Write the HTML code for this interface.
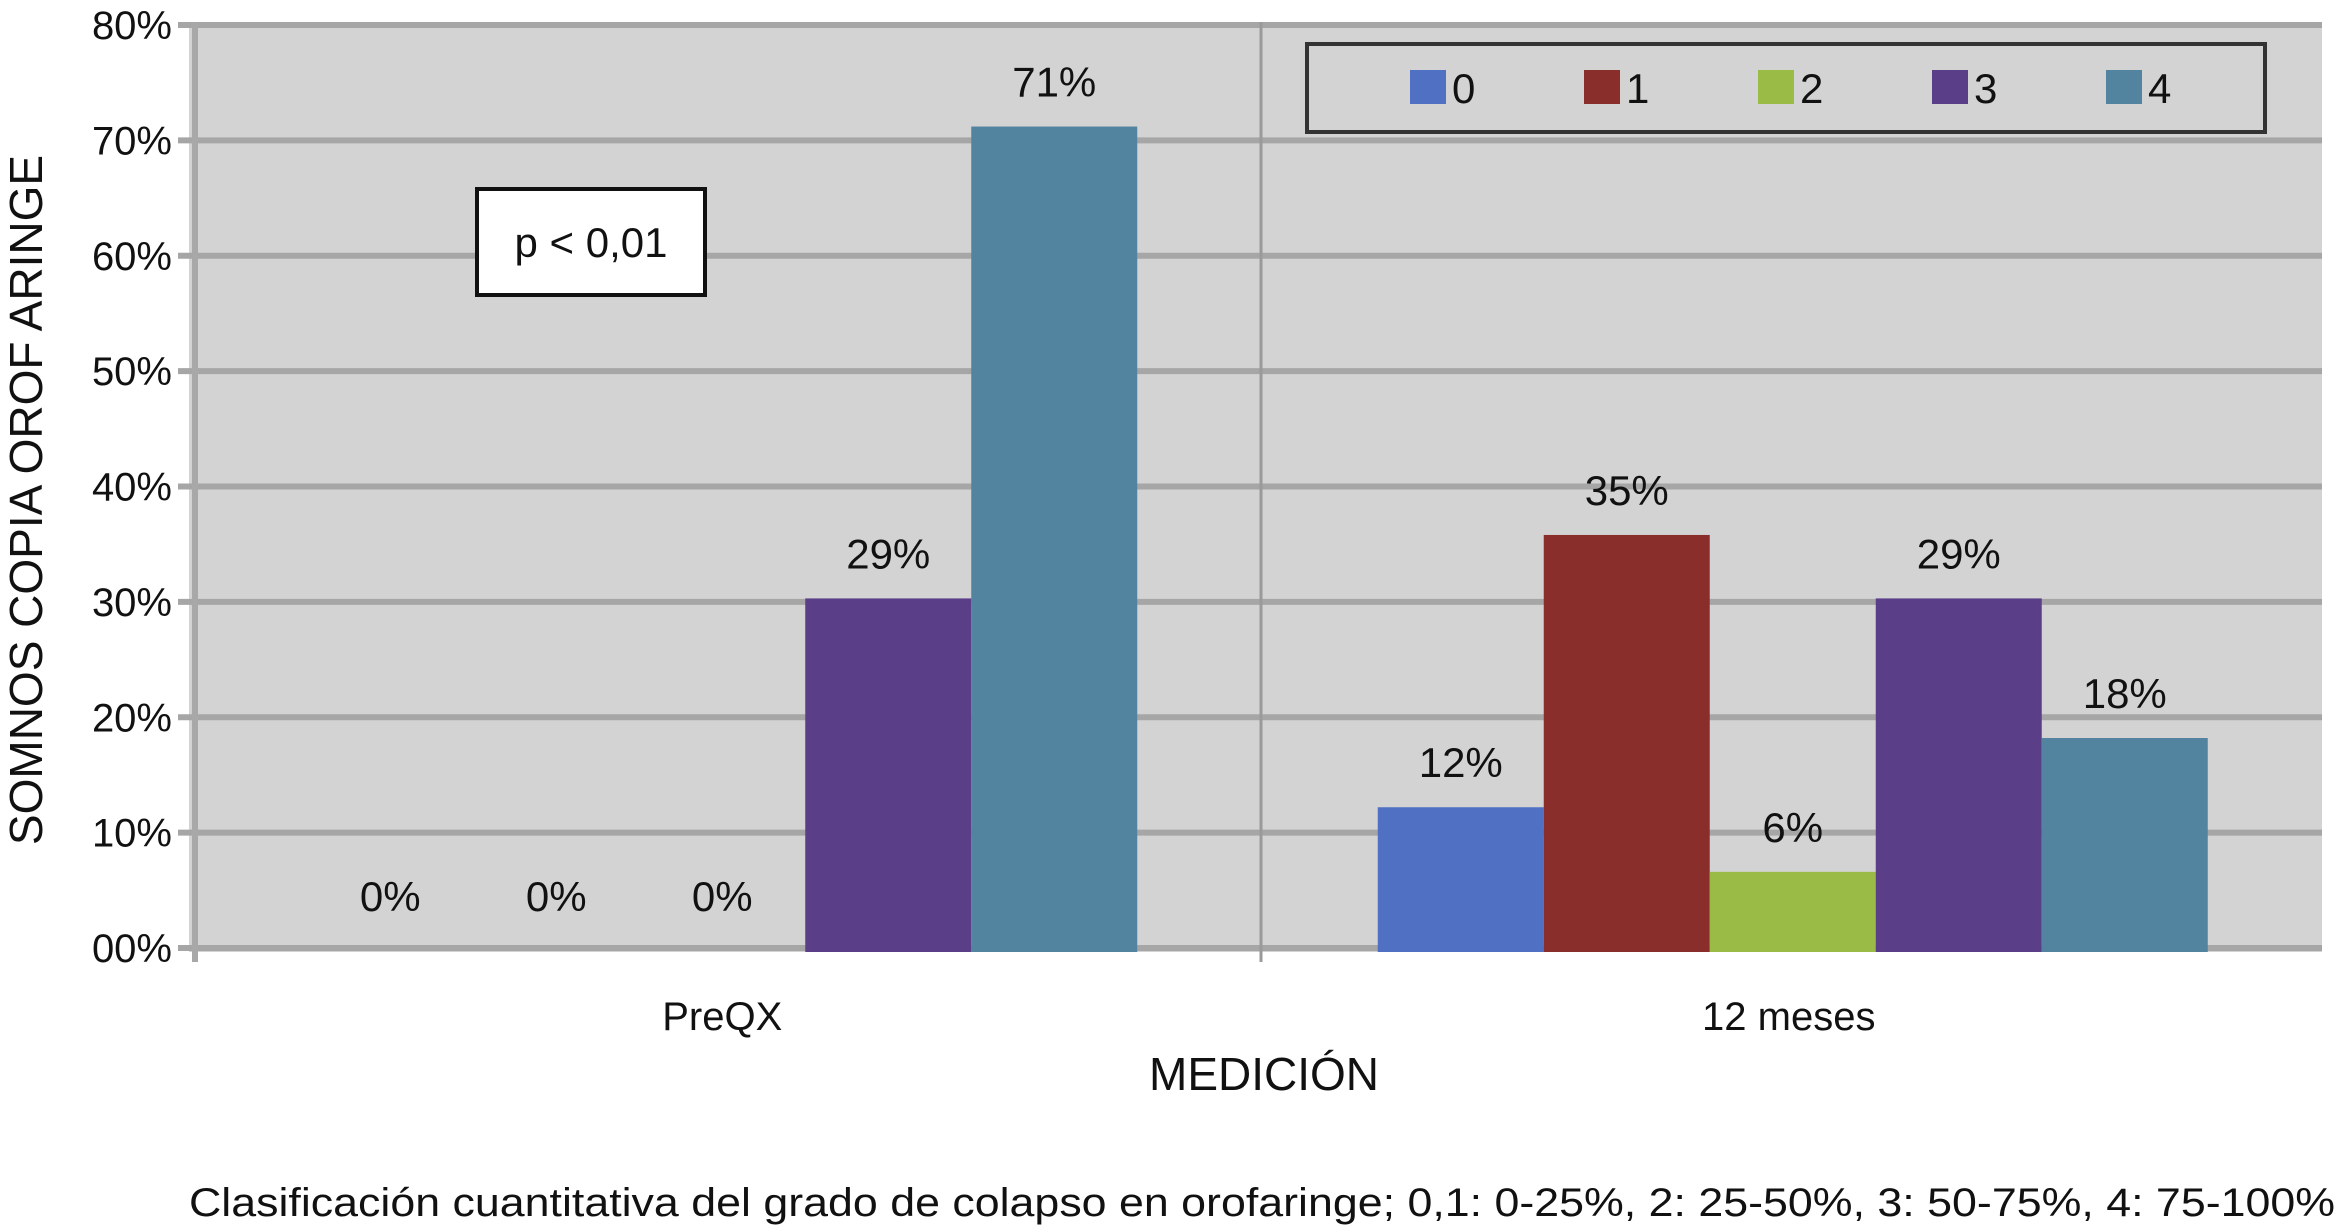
<!DOCTYPE html>
<html><head><meta charset="utf-8"><style>
html,body{margin:0;padding:0;background:#fff}
svg{display:block;font-family:"Liberation Sans",Arial,sans-serif}
</style></head><body>
<svg id="chart" width="2338" height="1227" viewBox="0 0 2338 1227" xmlns="http://www.w3.org/2000/svg">
<rect x="189" y="22" width="2133" height="930" fill="#d3d3d3"/>
<g id="grid"></g>
<line x1="1261" y1="22" x2="1261" y2="962" stroke="#9a9a9a" stroke-width="3"/>
<line x1="195" y1="22" x2="195" y2="962" stroke="#a8a8a8" stroke-width="6"/>
<g id="bars"></g>
<g id="ticks"></g>
<rect x="477" y="189" width="228" height="106" fill="#fff" stroke="#111" stroke-width="4"/>
<text x="591" y="257" font-size="42" text-anchor="middle" fill="#111">p &lt; 0,01</text>
<g>
<rect x="1307" y="44" width="958" height="88" fill="#d3d3d3" stroke="#333" stroke-width="4"/>
<g id="legend-items"></g>
</g>
<text transform="translate(42,500) rotate(-90)" font-size="46" text-anchor="middle" fill="#111">SOMNOS COPIA OROF ARINGE</text>
<text x="1264" y="1090" font-size="46" text-anchor="middle" fill="#111">MEDICIÓN</text>
<text x="189" y="1216" font-size="40" textLength="2146" lengthAdjust="spacingAndGlyphs" fill="#111">Clasificación cuantitativa del grado de colapso en orofaringe; 0,1: 0-25%, 2: 25-50%, 3: 50-75%, 4: 75-100%</text>
</svg>
<script>
const categories = ["PreQX", "12 meses"];
const seriesNames = ["0", "1", "2", "3", "4"];
const seriesColors = ["#5070c4", "#8a2e2c", "#9bbb47", "#5b3e88", "#52839f"];
const preqxValues = [0, 0, 0, 30.3, 71.2];
const mesesValues = [12.2, 35.8, 6.6, 30.3, 18.2];
const preqxLabels = ["0%", "0%", "0%", "29%", "71%"];
const mesesLabels = ["12%", "35%", "6%", "29%", "18%"];
const yTicks = [0, 10, 20, 30, 40, 50, 60, 70, 80];
const yTickLabels = ["00%", "10%", "20%", "30%", "40%", "50%", "60%", "70%", "80%"];

const NS = "http://www.w3.org/2000/svg";
const plotL = 189, plotR = 2322, y0 = 948, yTop = 25, yMax = 80;
function yScale(v){ return y0 - (v / yMax) * (y0 - yTop); }
const catW = (plotR - plotL) / categories.length;
const barW = 166;
function xBar(ci, si){ const c = plotL + catW * (ci + 0.5) + (ci === 1 ? 4 : 0); return c - barW * seriesNames.length / 2 + si * barW; }
function mk(tag, attrs, parent){ const e = document.createElementNS(NS, tag); for (const k in attrs) e.setAttribute(k, attrs[k]); parent.appendChild(e); return e; }

const grid = document.getElementById('grid');
const ticks = document.getElementById('ticks');
yTicks.forEach((t, i) => {
  const y = yScale(t);
  const g = mk('line', {x1: 178, x2: plotR, y1: y, y2: y, stroke: '#a6a6a6', 'stroke-width': 6}, grid);
  
  
  const tx = mk('text', {x: 172, y: y + 14, 'font-size': 40, 'text-anchor': 'end', fill: '#111'}, ticks);
  tx.textContent = yTickLabels[i];
  
  
});

const bars = document.getElementById('bars');
const allVals = [preqxValues, mesesValues];
const allLabels = [preqxLabels, mesesLabels];
categories.forEach((cat, ci) => {
  allVals[ci].forEach((v, si) => {
    const x = xBar(ci, si), y = yScale(v);
    if (v > 0) {
      const r = mk('rect', {x: x, y: y, width: barW, height: y0 - y + 4, fill: seriesColors[si]}, bars);
      
      
    }
    const lbl = mk('text', {x: x + barW / 2, y: (v > 0 ? y - 30 : yScale(3.2)), 'font-size': 42, 'text-anchor': 'middle', fill: '#111'}, bars);
    lbl.textContent = allLabels[ci][si];
    
    
  });
  const cl = mk('text', {x: plotL + catW * (ci + 0.5), y: 1030, 'font-size': 40, 'text-anchor': 'middle', fill: '#111'}, ticks);
  cl.textContent = cat;
  
  
});

const leg = document.getElementById('legend-items');
seriesNames.forEach((n, i) => {
  const x = 1410 + i * 174;
  const s = mk('rect', {x: x, y: 70, width: 36, height: 34, fill: seriesColors[i]}, leg);
  
  
  const t = mk('text', {x: x + 42, y: 103, 'font-size': 42, fill: '#111'}, leg);
  t.textContent = n;
  
  
});
</script>
</body></html>
